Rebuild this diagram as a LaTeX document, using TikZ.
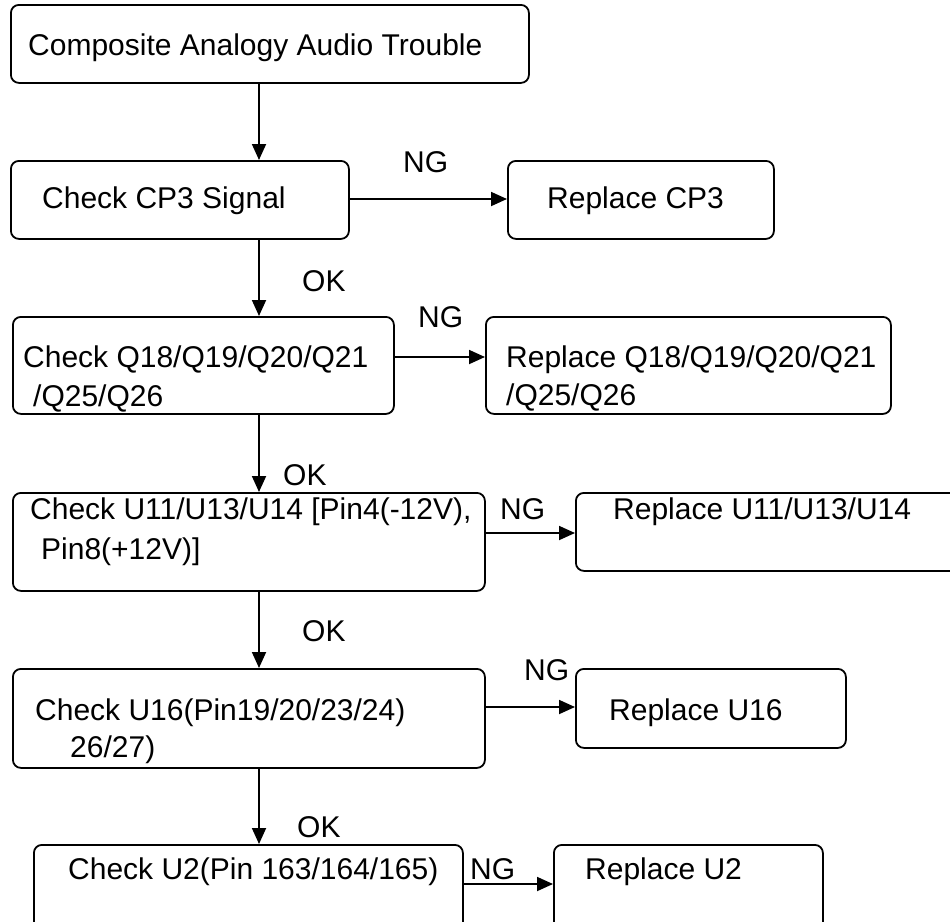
\documentclass[tikz,border=0pt]{standalone}
\usepackage{fontspec}
\setmainfont{Liberation Sans}
\usetikzlibrary{arrows.meta}

\tikzset{
  box/.style={draw, line width=1.8pt, rounded corners=8pt, inner sep=0pt, anchor=north west},
  lbl/.style={anchor=base west, inner sep=0pt, font=\fontsize{30}{36}\selectfont},
  arr/.style={line width=1.8pt, -{Triangle[length=16pt,width=14pt]}},
}

\begin{document}
\begin{tikzpicture}[x=1pt,y=-1pt]
\useasboundingbox (0,0) rectangle (950,921);
\fill[white] (0,0) rectangle (950,921);
\clip (0,0) rectangle (950,921);

% boxes (upper-left corner, size)
\node[box, minimum width=518pt, minimum height=78pt]  (b1)  at (10,4)   {};
\node[box, minimum width=338pt, minimum height=78pt]  (b2)  at (10,160) {};
\node[box, minimum width=266pt, minimum height=78pt]  (b3)  at (507,160) {};
\node[box, minimum width=381pt, minimum height=97pt]  (b4)  at (12,316) {};
\node[box, minimum width=405pt, minimum height=97pt]  (b5)  at (485,316) {};
\node[box, minimum width=472pt, minimum height=98pt]  (b6)  at (12,492) {};
\node[box, minimum width=405pt, minimum height=78pt]  (b7)  at (575,492) {};
\node[box, minimum width=472pt, minimum height=99pt]  (b8)  at (12,668) {};
\node[box, minimum width=270pt, minimum height=79pt]  (b9)  at (575,668) {};
\node[box, minimum width=429pt, minimum height=100pt] (b10) at (33,844) {};
\node[box, minimum width=269pt, minimum height=100pt] (b11) at (553,844) {};

% box texts
\node[lbl] (t1)  at (28,55)   {Composite Analogy Audio Trouble};
\node[lbl] (t2)  at (42,208)  {Check CP3 Signal};
\node[lbl] (t3)  at (547,208) {Replace CP3};
\node[lbl] (t4a) at (23,367)  {Check Q18/Q19/Q20/Q21};
\node[lbl] (t4b) at (33,406)  {/Q25/Q26};
\node[lbl] (t5a) at (506,367) {Replace Q18/Q19/Q20/Q21};
\node[lbl] (t5b) at (506,405) {/Q25/Q26};
\node[lbl] (t6a) at (30,519)  {Check U11/U13/U14 [Pin4(-12V),};
\node[lbl] (t6b) at (41,559)  {Pin8(+12V)]};
\node[lbl] (t7)  at (613,519) {Replace U11/U13/U14};
\node[lbl] (t8a) at (35,720)  {Check U16(Pin19/20/23/24)};
\node[lbl] (t8b) at (70,757)  {26/27)};
\node[lbl] (t9)  at (609,720) {Replace U16};
\node[lbl] (t10) at (68,879)  {Check U2(Pin 163/164/165)};
\node[lbl] (t11) at (585,879) {Replace U2};

% branch labels
\node[lbl] (ng1) at (403,172) {NG};
\node[lbl] (ng2) at (418,327) {NG};
\node[lbl] (ng3) at (500,519) {NG};
\node[lbl] (ng4) at (524,680) {NG};
\node[lbl] (ng5) at (470,879) {NG};
\node[lbl] (ok1) at (302,291) {OK};
\node[lbl] (ok2) at (283,485) {OK};
\node[lbl] (ok3) at (302,641) {OK};
\node[lbl] (ok4) at (297,837) {OK};

% main column
\coordinate (spine) at (259,0);
\draw[arr] (b1.south -| spine) -- (b2.north -| spine);
\draw[arr] (b2.south -| spine) -- (b4.north -| spine);
\draw[arr] (b4.south -| spine) -- (b6.north -| spine);
\draw[arr] (b6.south -| spine) -- (b8.north -| spine);
\draw[arr] (b8.south -| spine) -- (b10.north -| spine);

% NG branches
\draw[arr] (b2.east |- 0,199) -- (b3.west |- 0,199);
\draw[arr] (b4.east |- 0,357) -- (b5.west |- 0,357);
\draw[arr] (b6.east |- 0,533) -- (b7.west |- 0,533);
\draw[arr] (b8.east |- 0,707) -- (b9.west |- 0,707);
\draw[arr] (b10.east |- 0,884) -- (b11.west |- 0,884);
\end{tikzpicture}
\end{document}
